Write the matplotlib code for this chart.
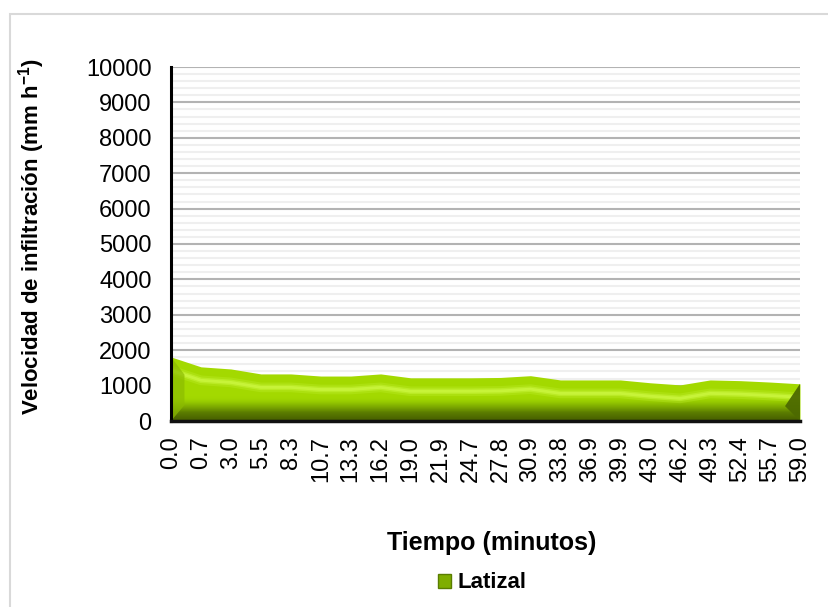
import numpy as np
import matplotlib.pyplot as plt
from matplotlib.patches import Rectangle, Polygon
from matplotlib.ticker import MultipleLocator

plt.rcParams['font.family'] = ['Liberation Sans', 'DejaVu Sans']
plt.rcParams['mathtext.fontset'] = 'custom'
plt.rcParams['mathtext.rm'] = 'Liberation Sans'
plt.rcParams['mathtext.bf'] = 'Liberation Sans:bold'

tiempos = ['0.0', '0.7', '3.0', '5.5', '8.3', '10.7', '13.3', '16.2', '19.0', '21.9', '24.7',
           '27.8', '30.9', '33.8', '36.9', '39.9', '43.0', '46.2', '49.3', '52.4', '55.7', '59.0']
latizal = [1810, 1530, 1470, 1330, 1330, 1270, 1270, 1330, 1220, 1220, 1220,
           1230, 1280, 1160, 1160, 1160, 1080, 1020, 1160, 1140, 1100, 1050]

x = np.arange(len(tiempos))
y = np.array(latizal, dtype=float)

fig = plt.figure(figsize=(8.29, 6.07), dpi=100)
# marco exterior del grafico
fig.patches.append(Rectangle((10 / 829, -0.1), 1.2, (607 - 14) / 607 + 0.1,
                             transform=fig.transFigure, fill=False,
                             edgecolor='#d9d9d9', lw=1.5))

ax = fig.add_axes([171 / 829, 1 - 421 / 607, 629 / 829, 354 / 607])

# area principal
area = ax.fill_between(x, 0, y, color='#a3d900', lw=0, zorder=3)
clip = area.get_paths()[0]

# sombreado oscuro hacia la base
grad = np.linspace(0, 1, 256).reshape(-1, 1)
cmap_base = plt.matplotlib.colors.LinearSegmentedColormap.from_list(
    'base', [(0.0, (0.27, 0.36, 0.0, 1.0)), (0.35, (0.36, 0.49, 0.0, 1.0)),
             (0.65, (0.50, 0.68, 0.0, 0.8)), (1.0, (0.64, 0.85, 0.0, 0.0))])
im = ax.imshow(grad, extent=(x[0], x[-1], 0, 700), origin='lower', aspect='auto',
               cmap=cmap_base, zorder=4, interpolation='bilinear')
im.set_clip_path(clip, transform=ax.transData)

# brillo bajo el borde superior
for lw, a in [(7, 0.25), (4, 0.5), (2, 0.9)]:
    ln, = ax.plot(x, y - 380, color='#c9f53c', lw=lw, alpha=a, zorder=5,
                  solid_capstyle='butt')
    ln.set_clip_path(clip, transform=ax.transData)

# biseles laterales
izq = Polygon([(x[0], 0), (x[0], y[0]), (x[0] + 0.45, y[0] - 500), (x[0] + 0.45, 450)],
              closed=True, color='#8cbc00', alpha=0.7, lw=0, zorder=5)
der = Polygon([(x[-1], 0), (x[-1], y[-1]), (x[-1] - 0.5, 420)],
              closed=True, color='#4d6a00', alpha=0.95, lw=0, zorder=6)
ax.add_patch(izq)
ax.add_patch(der)

ax.set_xlim(x[0], x[-1])
ax.set_ylim(0, 10000)
ax.yaxis.set_major_locator(MultipleLocator(1000))
ax.yaxis.set_minor_locator(MultipleLocator(200))
ax.grid(which='major', axis='y', color='#b3b3b3', lw=1.5, zorder=1)
ax.grid(which='minor', axis='y', color='#efefef', lw=1.5, zorder=0)
ax.set_axisbelow(True)

ax.set_xticks(x)
ax.set_xticklabels(tiempos, rotation=90, fontsize=17)
ax.tick_params(axis='y', which='both', length=0, labelsize=17, pad=14)
ax.tick_params(axis='x', length=0, pad=11)

for s in ['top', 'right']:
    ax.spines[s].set_visible(False)
ax.spines['left'].set_linewidth(2.2)
ax.spines['left'].set_zorder(7)
ax.spines['bottom'].set_linewidth(2.5)
ax.spines['bottom'].set_color('#111111')
ax.spines['bottom'].set_zorder(7)

ax.set_ylabel(r'Velocidad de infiltración (mm h$^{\mathbf{-1}}$)', fontsize=16,
              fontweight='bold')
ax.yaxis.set_label_coords(-0.197, 0.52)
fig.text(492 / 829, 1 - 543 / 607, 'Tiempo (minutos)', ha='center', va='center',
         fontsize=18, fontweight='bold')

handle = Rectangle((0, 0), 1, 1, facecolor='#7fae00', edgecolor='#5a7d00', lw=1)
fig.legend([handle], ['Latizal'], loc='center', bbox_to_anchor=(482 / 829, 1 - 583 / 607),
           frameon=False, prop={'size': 16, 'weight': 'bold'}, handlelength=0.6,
           handleheight=0.6, handletextpad=0.3)

fig.savefig('out.png', dpi=100)
